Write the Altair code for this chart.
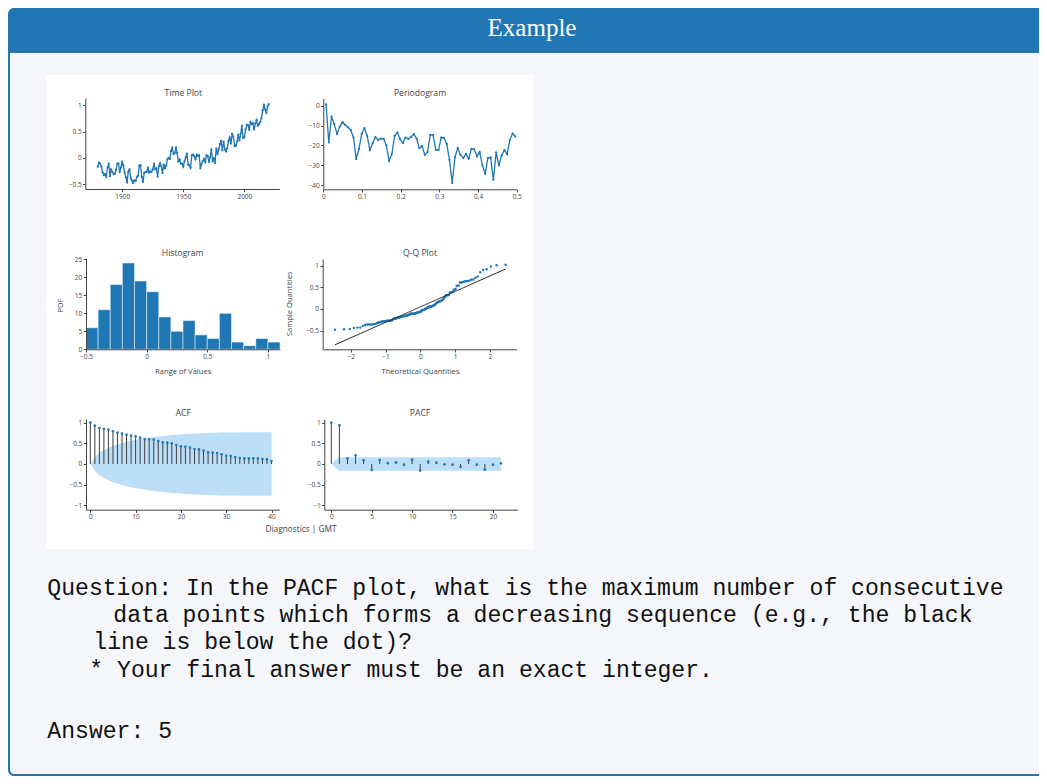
import altair as alt
import pandas as pd

W, H = 1031, 768  # drawing canvas (page minus the 8px body margin)

# ---------------- data ----------------
years = list(range(1880, 2021))
gmt = [-0.17, -0.09, -0.11, -0.17, -0.28, -0.33, -0.31, -0.36, -0.18, -0.11,
       -0.35, -0.22, -0.27, -0.31, -0.30, -0.23, -0.11, -0.11, -0.27, -0.18,
       -0.08, -0.15, -0.28, -0.37, -0.47, -0.26, -0.22, -0.39, -0.43, -0.48,
       -0.43, -0.44, -0.36, -0.34, -0.15, -0.14, -0.36, -0.46, -0.29, -0.27,
       -0.27, -0.19, -0.28, -0.26, -0.27, -0.22, -0.11, -0.22, -0.20, -0.36,
       -0.16, -0.10, -0.16, -0.29, -0.13, -0.20, -0.15, -0.03, -0.00, -0.02,
       0.13, 0.19, 0.07, 0.09, 0.20, 0.09, -0.07, -0.03, -0.11, -0.11,
       -0.17, -0.07, 0.01, 0.08, -0.13, -0.14, -0.19, 0.05, 0.06, 0.03,
       -0.03, 0.06, 0.03, 0.05, -0.20, -0.11, -0.06, -0.02, -0.08, 0.05,
       0.03, -0.08, 0.01, 0.16, -0.07, -0.01, -0.10, 0.18, 0.07, 0.16,
       0.26, 0.32, 0.14, 0.31, 0.16, 0.12, 0.18, 0.32, 0.39, 0.27,
       0.45, 0.40, 0.22, 0.23, 0.31, 0.44, 0.33, 0.46, 0.61, 0.38,
       0.39, 0.54, 0.63, 0.62, 0.53, 0.68, 0.64, 0.66, 0.54, 0.65,
       0.72, 0.61, 0.64, 0.68, 0.75, 0.90, 1.01, 0.92, 0.85, 0.98,
       1.02]

hist_lo = [-0.5, -0.4, -0.3, -0.2, -0.1, 0.0, 0.1, 0.2, 0.3, 0.4, 0.5, 0.6, 0.7, 0.8, 0.9, 1.0]
hist_hi = [-0.4, -0.3, -0.2, -0.1, 0.0, 0.1, 0.2, 0.3, 0.4, 0.5, 0.6, 0.7, 0.8, 0.9, 1.0, 1.1]
hist_count = [6, 11, 18, 24, 19, 16, 9, 5, 8, 4, 3, 10, 2, 1, 3, 2]

pgram_k = list(range(1, 71))
pgram_db = [0.7, -18.5, -5.5, -9.3, -14.2, -10.5, -8.2, -9.7, -10.8, -12.2,
            -16.0, -26.8, -21.7, -14.2, -11.3, -15.2, -22.3, -18.8, -15.8, -17.2,
            -16.5, -16.7, -20.0, -27.7, -24.2, -15.2, -13.5, -16.7, -18.8, -16.0,
            -16.7, -15.7, -14.3, -16.5, -21.3, -20.3, -24.7, -23.3, -14.7, -14.7,
            -22.2, -22.2, -16.0, -16.2, -19.2, -27.2, -38.8, -25.8, -21.3, -24.7,
            -26.3, -24.2, -26.7, -21.7, -21.8, -25.5, -23.3, -30.0, -34.2, -26.3,
            -26.0, -37.2, -23.5, -30.0, -25.0, -22.3, -24.3, -17.3, -14.0, -15.5]

acf_lags = list(range(41))
acf_vals = [1.0, 0.926, 0.87, 0.845, 0.83, 0.79, 0.757, 0.733, 0.708, 0.684,
            0.668, 0.636, 0.604, 0.596, 0.588, 0.556, 0.523, 0.515, 0.5, 0.459,
            0.427, 0.419, 0.395, 0.362, 0.354, 0.322, 0.282, 0.274, 0.266, 0.233,
            0.2, 0.193, 0.169, 0.145, 0.137, 0.137, 0.137, 0.137, 0.12, 0.113,
            0.072]
acf_band = [0.0, 0.165, 0.272, 0.339, 0.393, 0.438, 0.475, 0.507, 0.535, 0.56,
            0.582, 0.602, 0.62, 0.636, 0.651, 0.666, 0.678, 0.689, 0.699, 0.709,
            0.717, 0.724, 0.73, 0.736, 0.741, 0.746, 0.749, 0.752, 0.755, 0.758,
            0.76, 0.761, 0.762, 0.763, 0.764, 0.765, 0.766, 0.767, 0.768, 0.769,
            0.77]

pacf_lags = list(range(22))
pacf_vals = [1.0, 0.936, 0.136, 0.208, 0.088, -0.144, 0.096, 0.016, 0.04, -0.016,
             0.104, -0.16, 0.056, 0.032, -0.008, -0.016, -0.072, 0.088, -0.016, -0.136,
             -0.016, 0.016]
pacf_band = [0.0, 0.165, 0.165, 0.165, 0.165, 0.165, 0.165, 0.165, 0.165, 0.165,
             0.165, 0.165, 0.165, 0.165, 0.165, 0.165, 0.165, 0.165, 0.165, 0.165,
             0.165, 0.165]

question_lines = [
    "Question: In the PACF plot, what is the maximum number of consecutive",
    "data points which forms a decreasing sequence (e.g., the black",
    "line is below the dot)?",
    "* Your final answer must be an exact integer.",
    "Answer: 5",
]

# ---------------- tables ----------------
ts_df = pd.DataFrame({"year": years, "gmt": gmt})
hist_df = pd.DataFrame({"lo": hist_lo, "hi": hist_hi, "count": hist_count,
                        "base": [0] * len(hist_count)})
pg_df = pd.DataFrame({"freq": [k / 141 for k in pgram_k], "db": pgram_db})
acf_df = pd.DataFrame({"lag": acf_lags, "v": acf_vals, "up": acf_band,
                       "dn": [-b for b in acf_band], "base": [0] * len(acf_lags)})
pacf_df = pd.DataFrame({"lag": pacf_lags, "v": pacf_vals, "up": pacf_band,
                        "dn": [-b for b in pacf_band], "base": [0] * len(pacf_lags)})
one = pd.DataFrame({"a": [0]})

BLUE = "#1f77b4"
STEM = "#3f3f3f"
BAND = "#bcdef7"
AX = "#444444"


def sc(domain, rng):
    return alt.Scale(domain=domain, range=rng, zero=False, nice=False)


def xaxis(ypos, values, title=None, tx=None, ty=None):
    kw = dict(orient="bottom", offset=ypos - H, values=values, format="~f",
              labelFlush=False, labelOverlap=False, zindex=1)
    if title:
        kw.update(title=title, titleX=tx, titleY=ty - ypos, titleAlign="center",
                  titleBaseline="middle", titleAngle=0)
    else:
        kw["title"] = None
    return alt.Axis(**kw)


def yaxis(xpos, values, title=None, tx=None, ty=None):
    kw = dict(orient="left", offset=-xpos, values=values, format="~f",
              labelOverlap=False, zindex=1)
    if title:
        kw.update(title=title, titleX=tx - xpos, titleY=ty, titleAlign="center",
                  titleBaseline="middle", titleAngle=270)
    else:
        kw["title"] = None
    return alt.Axis(**kw)


def rect(x, x2, y, y2, color, **kw):
    return alt.Chart(one).mark_rect(color=color, **kw).encode(
        x=alt.value(x), x2=alt.value(x2), y=alt.value(y), y2=alt.value(y2))


def label(text, x, y, size, color=AX, font="Open Sans", align="center",
          baseline="middle"):
    return alt.Chart(one).mark_text(text=text, font=font, fontSize=size, color=color,
                                    align=align, baseline=baseline).encode(
        x=alt.value(x), y=alt.value(y))


layers = []

# ---------------- card decoration ----------------
layers.append(rect(0, W + 4, 0, H, "#2077b4", cornerRadiusTopLeft=6, cornerRadiusBottomLeft=6))
layers.append(rect(2, W + 4, 45, H - 2, "#f4f6f9", cornerRadiusBottomLeft=4))
layers.append(rect(38, 525, 67, 541, "#ffffff"))
layers.append(label("Example", 524, 20, 25, color="white", font="Liberation Serif"))

# subplot titles
layers.append(label("Time Plot", 175.3, 84.7, 8.6))
layers.append(label("Periodogram", 412, 84.7, 8.6))
layers.append(label("Histogram", 174.7, 244.7, 8.6))
layers.append(label("Q-Q Plot", 412, 244.7, 8.6))
layers.append(label("ACF", 175.3, 404.7, 8.6))
layers.append(label("PACF", 412, 404.7, 8.6))
layers.append(label("Diagnostics | GMT", 293, 522, 8.3))

# question text
qx = [39.3, 105.3, 85.3, 81.3, 39.3]
qy = [586.7, 614.0, 641.3, 668.6, 730.0]
for t, x, y in zip(question_lines, qx, qy):
    layers.append(label(t, x, y, 23.1, color="#111111", font="Liberation Mono",
                        align="left", baseline="alphabetic"))

# ---------------- Time plot ----------------
tx_s = sc([1869.8, 2028.6], [77.3, 271.3])
ty_s = sc([-0.593, 1.137], [181, 90])
layers.append(alt.Chart(ts_df).mark_line(color=BLUE, strokeWidth=1.3).encode(
    x=alt.X("year:Q", scale=tx_s, axis=xaxis(181, [1900, 1950, 2000])),
    y=alt.Y("gmt:Q", scale=ty_s, axis=yaxis(77.3, [-0.5, 0, 0.5, 1]))))
layers.append(alt.Chart(ts_df).mark_circle(color=BLUE, size=5, opacity=1).encode(
    x=alt.X("year:Q", scale=tx_s, axis=None),
    y=alt.Y("gmt:Q", scale=ty_s, axis=None)))

# ---------------- Periodogram ----------------
px_s = sc([0, 0.5], [315.3, 508.7])
py_s = sc([-42.0, 3.7], [181.3, 90.3])
layers.append(alt.Chart(pg_df).mark_line(color=BLUE, strokeWidth=1.3).encode(
    x=alt.X("freq:Q", scale=px_s, axis=xaxis(181.3, [0, 0.1, 0.2, 0.3, 0.4, 0.5])),
    y=alt.Y("db:Q", scale=py_s, axis=yaxis(315.3, [-40, -30, -20, -10, 0]))))
layers.append(alt.Chart(pg_df).mark_circle(color=BLUE, size=5, opacity=1).encode(
    x=alt.X("freq:Q", scale=px_s, axis=None),
    y=alt.Y("db:Q", scale=py_s, axis=None)))

# ---------------- Histogram ----------------
hx_s = sc([-0.5, 1.1], [78, 272])
hy_s = sc([0, 25.3], [341.3, 250.3])
layers.append(alt.Chart(hist_df).mark_rect(color=BLUE, stroke="white", strokeWidth=0.7,
                                           strokeOpacity=0.7).encode(
    x=alt.X("lo:Q", scale=hx_s,
            axis=xaxis(341.3, [-0.5, 0, 0.5, 1], "Range of Values", 174.7, 363.7)),
    x2="hi:Q",
    y=alt.Y("count:Q", scale=hy_s,
            axis=yaxis(78, [0, 5, 10, 15, 20, 25], "PDF", 52.3, 297)),
    y2="base:Q"))

# ---------------- Q-Q plot (sorted data vs normal quantiles) ----------------
qx_s = sc([-2.809, 2.774], [314.7, 508.7])
qy_s = sc([-0.931, 1.155], [341.3, 251])
qq = alt.Chart(ts_df).transform_window(
    rank="row_number()", sort=[alt.SortField("gmt", order="ascending")]
).transform_joinaggregate(
    n="count()", mu="mean(gmt)", sd="stdevp(gmt)"
).transform_calculate(
    z="quantileNormal(datum.rank / (datum.n + 1))",
    fit="datum.mu + datum.sd * datum.z")
layers.append(qq.mark_circle(color=BLUE, size=6, opacity=1).encode(
    x=alt.X("z:Q", scale=qx_s,
            axis=xaxis(341.3, [-2, -1, 0, 1, 2], "Theoretical Quantities", 412, 363)),
    y=alt.Y("gmt:Q", scale=qy_s,
            axis=yaxis(314.7, [-0.5, 0, 0.5, 1], "Sample Quantities", 281.3, 295.3))))
layers.append(qq.mark_line(color="#222222", strokeWidth=1).encode(
    x=alt.X("z:Q", scale=qx_s, axis=None),
    y=alt.Y("fit:Q", scale=qy_s, axis=None)))

# ---------------- ACF ----------------
ax_s = sc([-0.95, 41.72], [78, 271.3])
ay_s = sc([-1.104, 1.087], [501.7, 411])
layers.append(alt.Chart(acf_df).mark_area(color=BAND, opacity=1).encode(
    x=alt.X("lag:Q", scale=ax_s, axis=xaxis(501.7, [0, 10, 20, 30, 40])),
    y=alt.Y("dn:Q", scale=ay_s, axis=yaxis(78, [-1, -0.5, 0, 0.5, 1])),
    y2="up:Q"))
layers.append(alt.Chart(acf_df).mark_rule(color=STEM, strokeWidth=1).encode(
    x=alt.X("lag:Q", scale=ax_s, axis=None),
    y=alt.Y("base:Q", scale=ay_s, axis=None),
    y2="v:Q"))
layers.append(alt.Chart(acf_df).mark_circle(color=BLUE, size=7, opacity=1).encode(
    x=alt.X("lag:Q", scale=ax_s, axis=None),
    y=alt.Y("v:Q", scale=ay_s, axis=None)))

# ---------------- PACF ----------------
bx_s = sc([-0.866, 23.07], [316.3, 509.7])
by_s = sc([-1.104, 1.087], [501.7, 411])
layers.append(alt.Chart(pacf_df).mark_area(color=BAND, opacity=1).encode(
    x=alt.X("lag:Q", scale=bx_s, axis=xaxis(501.7, [0, 5, 10, 15, 20])),
    y=alt.Y("dn:Q", scale=by_s, axis=yaxis(316.3, [-1, -0.5, 0, 0.5, 1])),
    y2="up:Q"))
layers.append(alt.Chart(pacf_df).mark_rule(color=STEM, strokeWidth=1).encode(
    x=alt.X("lag:Q", scale=bx_s, axis=None),
    y=alt.Y("base:Q", scale=by_s, axis=None),
    y2="v:Q"))
layers.append(alt.Chart(pacf_df).mark_circle(color=BLUE, size=7, opacity=1).encode(
    x=alt.X("lag:Q", scale=bx_s, axis=None),
    y=alt.Y("v:Q", scale=by_s, axis=None)))

chart = alt.layer(*layers).resolve_scale(
    x="independent", y="independent"
).properties(
    width=W, height=H, padding=0, background="white",
    autosize=alt.AutoSizeParams(type="none"),
).configure_view(stroke=None).configure_axis(
    grid=False, domainColor=AX, domainWidth=1, tickColor=AX, tickSize=2.7,
    tickWidth=1, labelColor=AX, labelFont="Open Sans", labelFontSize=6.5,
    labelPadding=1.5, titleFont="Open Sans", titleFontSize=7.6, titleColor=AX,
    titleFontWeight="normal")

chart.save("out.html", embed_options={"renderer": "svg", "actions": False})
